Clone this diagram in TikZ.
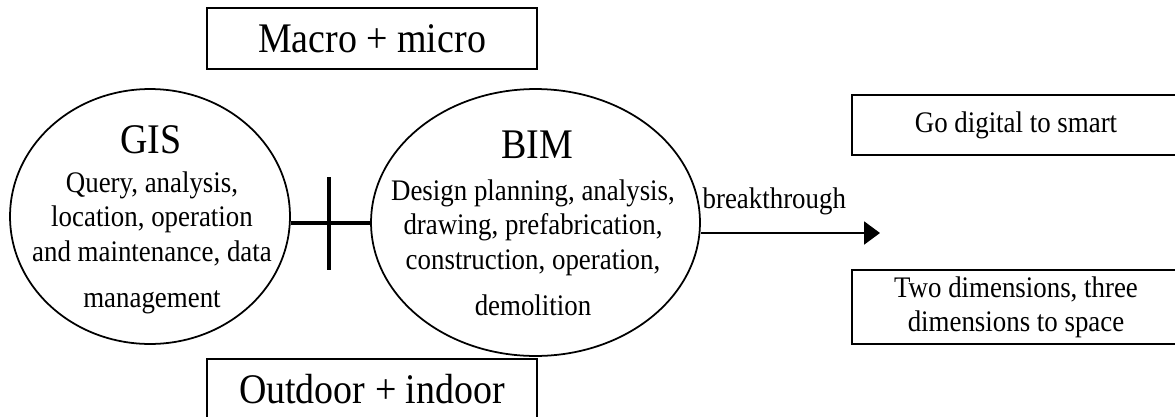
\documentclass[tikz,border=0pt]{standalone}
\usepackage{fontspec}
\setmainfont{Liberation Serif}[FakeStretch=0.9]
\usetikzlibrary{shapes.geometric}
\usetikzlibrary{arrows.meta}
\newcommand{\bigsize}{\fontsize{24}{28}\selectfont}
\newcommand{\txtsize}{\fontsize{17}{19.5}\selectfont}

\begin{document}
\begin{tikzpicture}[x=0.02cm, y=-0.02cm, line width=1pt]
	\tikzstyle{box}=[draw=black, line width=1.5pt, minimum width=6.6cm, minimum height=1.22cm, inner sep=0pt, font=\bigsize]
	\tikzstyle{rbox}=[draw=black, line width=1.5pt, minimum width=6.56cm, inner sep=0pt, align=center, font=\txtsize]
	\tikzstyle{bubble}=[ellipse, draw=black, line width=1pt, inner sep=0pt]
	\tikzstyle{title}=[inner sep=0pt, font=\bigsize]
	\tikzstyle{body}=[inner sep=0pt, align=center, font=\txtsize]
	\tikzstyle{bar}=[line width=2.6pt]

	\clip (0,0) rectangle (1175,416);

	% Draw the two fields
	\node[bubble, minimum width=5.6cm, minimum height=5.1cm] (gis) at (150,216.5) {};
	\node[bubble, minimum width=6.58cm, minimum height=5.34cm] (bim) at (535.5,222.5) {};
	\node[title] (gistitle) at (151,140) {GIS};
	\node[title] (bimtitle) at (537,145) {BIM};
	\node[body] (gisbody) at (152,243) {Query, analysis,\\ location, operation\\ and maintenance, data\\[7pt] management};
	\node[body] (bimbody) at (533,248) {Design planning, analysis,\\ drawing, prefabrication,\\ construction, operation,\\[7pt] demolition};

	% Draw the plus sign
	\coordinate (plus) at (329,223);
	\coordinate (plustop) at (329,177);
	\coordinate (plusbot) at (329,270);
	\draw[bar] (gis.east |- plus) -- (bim.west |- plus);
	\draw[bar] (plustop) -- (plusbot);

	% Draw boxes
	\node[box] (macro) at (372,38.5) {Macro + micro};
	\node[box] (outdoor) at (372,389.5) {Outdoor + indoor};
	\node[rbox, minimum height=1.2cm] (smart) at (1016,125) {Go digital to smart};
	\node[rbox, minimum height=1.48cm] (space) at (1016,307) {Two dimensions, three\\ dimensions to space};

	% Draw arrow
	\coordinate (tip) at (880,233);
	\path[-{Triangle[length=9pt, width=13pt]}, line width=1.1pt] (bim.east |- tip) edge node[pos=0.41, above=10pt, inner sep=0pt, font=\txtsize] (brk) {breakthrough} (tip);
\end{tikzpicture}
\end{document}
